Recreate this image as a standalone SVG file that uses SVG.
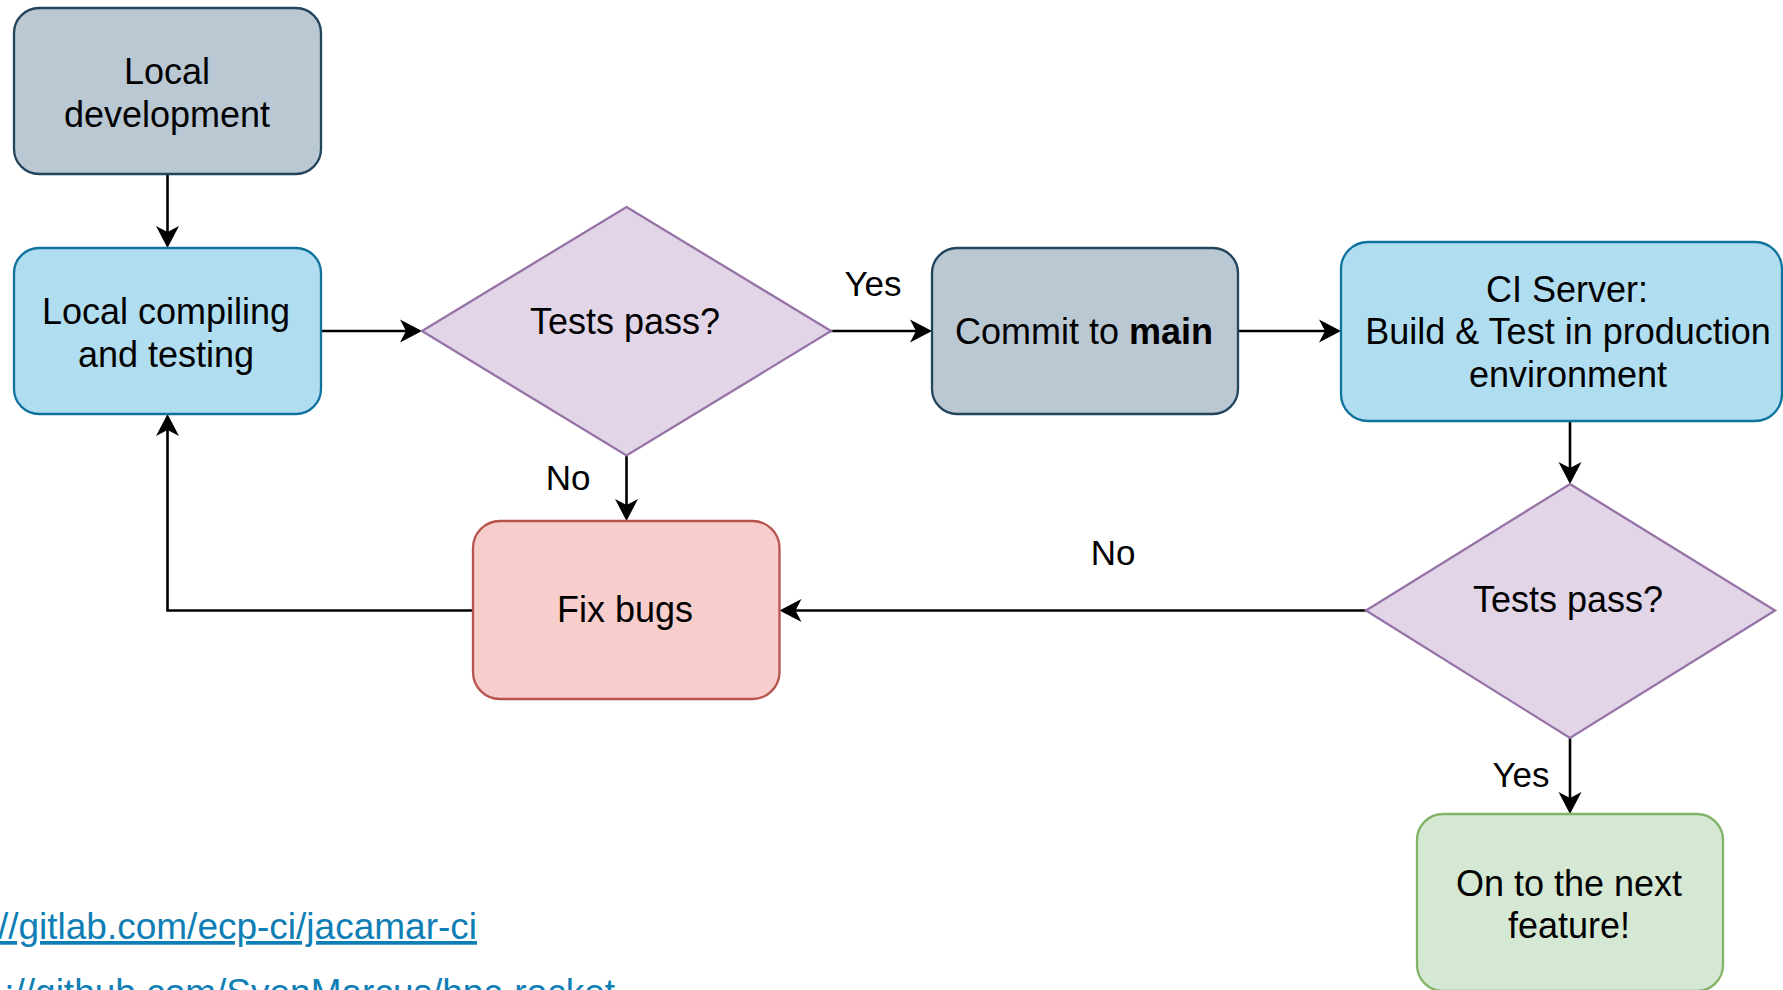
<svg xmlns="http://www.w3.org/2000/svg" width="1783" height="990" viewBox="0 0 1783 990">
  <style>
    .lbl { font-family: "Liberation Sans", Arial, sans-serif; font-size: 35px; fill: #000000; text-anchor: middle; }
    .node { font-size: 36px; }
    .b { font-weight: bold; }
    .edge { fill: none; stroke: #000000; stroke-width: 2.6; }
    .gray { fill: #bac8d3; stroke: #23445d; stroke-width: 2.3; }
    .blue { fill: #b1ddf0; stroke: #10739e; stroke-width: 2.3; }
    .purple { fill: #e1d5e7; stroke: #9673a6; stroke-width: 2.3; }
    .red { fill: #f8cecc; stroke: #b85450; stroke-width: 2.3; }
    .green { fill: #d5e8d4; stroke: #82b366; stroke-width: 2.3; }
    .link { font-family: "Liberation Sans", Arial, sans-serif; font-size: 37px; fill: #0e7eb5; text-anchor: end; text-decoration: underline; }
  </style>
  <defs>
    <!-- classic notched arrowhead; tip sits 12px beyond the path end -->
    <marker id="arrow" markerUnits="userSpaceOnUse" viewBox="-24 -13 38 26" markerWidth="38" markerHeight="26" refX="-12" refY="0" orient="auto">
      <path d="M0,0 L-22,-11.5 L-16,0 L-22,11.5 Z" fill="#000000"/>
    </marker>
  </defs>
  <rect width="1783" height="990" fill="#ffffff"/>

  <!-- connectors -->
  <g id="connectors">
    <path class="edge" d="M167.5,174 L167.5,236" marker-end="url(#arrow)"/>
    <path class="edge" d="M321,331 L410,331" marker-end="url(#arrow)"/>
    <path class="edge" d="M831,331 L920,331" marker-end="url(#arrow)"/>
    <path class="edge" d="M1238,331 L1329,331" marker-end="url(#arrow)"/>
    <path class="edge" d="M1570,421 L1570,472" marker-end="url(#arrow)"/>
    <path class="edge" d="M626.5,456 L626.5,509" marker-end="url(#arrow)"/>
    <path class="edge" d="M1366,610.5 L791.5,610.5" marker-end="url(#arrow)"/>
    <path class="edge" d="M473,610.5 L167.5,610.5 L167.5,426" marker-end="url(#arrow)"/>
    <path class="edge" d="M1570,738 L1570,802" marker-end="url(#arrow)"/>
    <text class="lbl" x="873" y="296">Yes</text>
    <text class="lbl" x="568" y="490">No</text>
    <text class="lbl" x="1113" y="565">No</text>
    <text class="lbl" x="1521" y="787">Yes</text>
  </g>

  <g id="local-development">
    <rect class="gray" x="14" y="8" width="307" height="166" rx="25" ry="25"/>
    <text class="lbl node" x="167" y="83.5">Local</text>
    <text class="lbl node" x="167" y="127">development</text>
  </g>

  <g id="local-compiling">
    <rect class="blue" x="14" y="248" width="307" height="166" rx="25" ry="25"/>
    <text class="lbl node" x="166" y="323.5">Local compiling</text>
    <text class="lbl node" x="166" y="366.5">and testing</text>
  </g>

  <g id="tests-pass-local">
    <polygon class="purple" points="626.5,207 831,331 626.5,455.5 422,331"/>
    <text class="lbl node" x="625" y="334">Tests pass?</text>
  </g>

  <g id="commit-main">
    <rect class="gray" x="932" y="248" width="306" height="166" rx="25" ry="25"/>
    <text class="lbl node" x="1084" y="343.5">Commit to <tspan class="b">main</tspan></text>
  </g>

  <g id="ci-server">
    <rect class="blue" x="1341" y="242" width="441" height="179" rx="27" ry="27"/>
    <text class="lbl node" x="1567" y="301.5">CI Server:</text>
    <text class="lbl node" x="1568" y="343.5">Build &amp; Test in production</text>
    <text class="lbl node" x="1568" y="387">environment</text>
  </g>

  <g id="tests-pass-ci">
    <polygon class="purple" points="1570,484 1775,610.5 1570,738 1366,610.5"/>
    <text class="lbl node" x="1568" y="611.5">Tests pass?</text>
  </g>

  <g id="fix-bugs">
    <rect class="red" x="473" y="521" width="306.5" height="178" rx="27" ry="27"/>
    <text class="lbl node" x="625" y="621.5">Fix bugs</text>
  </g>

  <g id="next-feature">
    <rect class="green" x="1417" y="814" width="306" height="177" rx="26" ry="26"/>
    <text class="lbl node" x="1569" y="895.5">On to the next</text>
    <text class="lbl node" x="1569" y="937.5">feature!</text>
  </g>

  <g id="links">
    <text class="link" x="477" y="939">//gitlab.com/ecp-ci/jacamar-ci</text>
    <text class="link" x="615" y="1005">://github.com/SvenMarcus/hpc-rocket</text>
  </g>
</svg>
